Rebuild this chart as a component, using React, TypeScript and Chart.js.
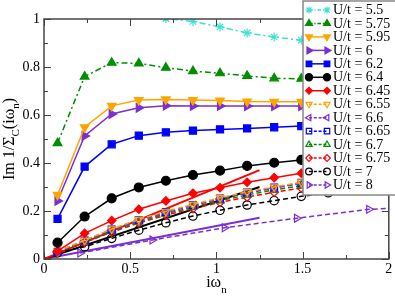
import React, { useEffect, useRef } from 'react';
import { Chart, registerables } from 'chart.js';
import { drawPoint } from 'chart.js/helpers';

Chart.register(...registerables);

const FONT = '"Liberation Serif", "DejaVu Serif", serif';

// Matsubara frequencies (beta = 40 and beta = 15)
const xB40 = [0.0785, 0.2356, 0.3927, 0.5498, 0.7069, 0.8639, 1.021, 1.1781, 1.3352, 1.4923, 1.6493, 1.8064, 1.9635];
const xB15 = [0.2094, 0.6283, 1.0472, 1.4661, 1.885, 2.3038];
const xFit = [0, 1.25];

const u550 = [1.2, 1.12, 1.06, 1.02, 1.002, 0.99, 0.967, 0.942, 0.925, 0.912, 0.9, 0.89, 0.88];
const u575 = [0.483, 0.76, 0.818, 0.815, 0.797, 0.783, 0.774, 0.763, 0.753, 0.751, 0.748, 0.745, 0.742];
const u595 = [0.267, 0.549, 0.638, 0.662, 0.665, 0.662, 0.66, 0.656, 0.655, 0.655, 0.654, 0.653, 0.652];
const u600 = [0.242, 0.513, 0.604, 0.63, 0.639, 0.638, 0.638, 0.637, 0.637, 0.637, 0.636, 0.636, 0.635];
const u620 = [0.167, 0.385, 0.478, 0.514, 0.528, 0.535, 0.54, 0.544, 0.549, 0.554, 0.558, 0.561, 0.564];
const u640 = [0.068, 0.177, 0.253, 0.298, 0.326, 0.35, 0.368, 0.388, 0.401, 0.413, 0.423, 0.432, 0.44];
const u645 = [0.033, 0.107, 0.16, 0.207, 0.242, 0.274, 0.297, 0.32, 0.339, 0.357, 0.372, 0.385, 0.397];
const u655 = [0.032, 0.078, 0.125, 0.165, 0.198, 0.228, 0.255, 0.28, 0.3, 0.32, 0.336, 0.35, 0.363];
const u660 = [0.03, 0.075, 0.12, 0.16, 0.193, 0.223, 0.25, 0.275, 0.295, 0.315, 0.331, 0.345, 0.358];
const u665 = [0.03, 0.077, 0.123, 0.163, 0.196, 0.225, 0.252, 0.277, 0.298, 0.318, 0.334, 0.348, 0.361];
const u670 = [0.028, 0.072, 0.116, 0.155, 0.188, 0.217, 0.243, 0.267, 0.288, 0.306, 0.322, 0.336, 0.349];
const u675 = [0.027, 0.069, 0.112, 0.15, 0.183, 0.21, 0.236, 0.258, 0.278, 0.296, 0.312, 0.326, 0.338];
const u700 = [0.026, 0.051, 0.086, 0.12, 0.151, 0.179, 0.203, 0.225, 0.243, 0.261, 0.276, 0.288, 0.3];
const u800 = [0.025, 0.079, 0.13, 0.17, 0.207, 0.222];

const fitRed = [0, 0.37];
const fitBlack = [0, 0.3];
const fitViolet = [0, 0.172];

const xMajor = [0, 0.5, 1, 1.5, 2];
const xMinor = [0.25, 0.75, 1.25, 1.75];
const yMajor = [0, 0.2, 0.4, 0.6, 0.8, 1];
const yMinor = [0.1, 0.3, 0.5, 0.7, 0.9];

const C_TURQ = '#40e0d0';
const C_GREEN = '#008f00';
const C_ORANGE = '#ffa500';
const C_VIOLET = '#7a2fd0';
const C_BLUE = '#0000ff';
const C_BLACK = '#000000';
const C_RED = '#ff0000';

const DASHDOT = [6, 3, 2, 3];
const DASH = [5, 3];

type S = {
  label: string; xs: number[]; ys: number[]; color: string; style: string;
  rot: number; filled: boolean; dash: number[]; r: number;
};

const series: S[] = [
  { label: 'U/t = 5.5', xs: xB40, ys: u550, color: C_TURQ, style: 'star', rot: 0, filled: true, dash: DASHDOT, r: 4.5 },
  { label: 'U/t = 5.75', xs: xB40, ys: u575, color: C_GREEN, style: 'triangle', rot: 0, filled: true, dash: DASHDOT, r: 5 },
  { label: 'U/t = 5.95', xs: xB40, ys: u595, color: C_ORANGE, style: 'triangle', rot: 180, filled: true, dash: [], r: 5 },
  { label: 'U/t = 6', xs: xB40, ys: u600, color: C_VIOLET, style: 'triangle', rot: 90, filled: true, dash: [], r: 5 },
  { label: 'U/t = 6.2', xs: xB40, ys: u620, color: C_BLUE, style: 'rect', rot: 0, filled: true, dash: [], r: 5 },
  { label: 'U/t = 6.4', xs: xB40, ys: u640, color: C_BLACK, style: 'circle', rot: 0, filled: true, dash: [], r: 4.5 },
  { label: 'U/t = 6.45', xs: xB40, ys: u645, color: C_RED, style: 'rectRot', rot: 0, filled: true, dash: [], r: 4.2 },
  { label: 'U/t = 6.55', xs: xB40, ys: u655, color: C_ORANGE, style: 'triangle', rot: 180, filled: false, dash: DASH, r: 4.5 },
  { label: 'U/t = 6.6', xs: xB40, ys: u660, color: C_VIOLET, style: 'triangle', rot: 270, filled: false, dash: DASH, r: 4.5 },
  { label: 'U/t = 6.65', xs: xB40, ys: u665, color: C_BLUE, style: 'rect', rot: 0, filled: false, dash: DASH, r: 4.8 },
  { label: 'U/t = 6.7', xs: xB40, ys: u670, color: C_GREEN, style: 'triangle', rot: 0, filled: false, dash: DASH, r: 4.5 },
  { label: 'U/t = 6.75', xs: xB40, ys: u675, color: C_RED, style: 'rectRot', rot: 0, filled: false, dash: DASH, r: 4.2 },
  { label: 'U/t = 7', xs: xB40, ys: u700, color: C_BLACK, style: 'circle', rot: 0, filled: false, dash: DASH, r: 4.2 },
  { label: 'U/t = 8', xs: xB15, ys: u800, color: C_VIOLET, style: 'triangle', rot: 90, filled: false, dash: DASH, r: 4.5 },
];

const fits = [
  { xs: xFit, ys: fitRed, color: C_RED },
  { xs: xFit, ys: fitBlack, color: C_BLACK },
  { xs: xFit, ys: fitViolet, color: C_VIOLET },
];

const pts = (xs: number[], ys: number[]) => {
  const n = Math.min(xs.length, ys.length);
  const out: { x: number; y: number }[] = [];
  for (let i = 0; i < n; i++) out.push({ x: xs[i], y: ys[i] });
  return out;
};

const fmt = (v: any) => String(+Number(v).toFixed(2));

const framePlugin = {
  id: 'frameTicks',
  afterDraw(chart: any) {
    const { ctx, chartArea: a, scales } = chart;
    const xs = scales.x, ys = scales.y;
    ctx.save();
    ctx.strokeStyle = '#444';
    ctx.lineWidth = 1.5;
    ctx.setLineDash([]);
    const seg = (x1: number, y1: number, x2: number, y2: number) => {
      ctx.beginPath(); ctx.moveTo(x1, y1); ctx.lineTo(x2, y2); ctx.stroke();
    };
    ctx.strokeRect(a.left, a.top, a.right - a.left, a.bottom - a.top);
    ctx.lineWidth = 1;
    const xt = (v: number, L: number) => {
      const p = Math.round(xs.getPixelForValue(v)) + 0.5;
      seg(p, a.bottom, p, a.bottom - L);
      seg(p, a.top, p, a.top + L);
    };
    const yt = (v: number, L: number) => {
      const p = Math.round(ys.getPixelForValue(v)) + 0.5;
      seg(a.left, p, a.left + L, p);
      seg(a.right, p, a.right - L, p);
    };
    xMajor.forEach((v) => xt(v, 7));
    xMinor.forEach((v) => xt(v, 4));
    yMajor.forEach((v) => yt(v, 7));
    yMinor.forEach((v) => yt(v, 4));

    // axis titles
    ctx.fillStyle = '#000';
    ctx.textBaseline = 'alphabetic';
    ctx.textAlign = 'left';
    const big = `16px ${FONT}`;
    const small = `11px ${FONT}`;
    const drawParts = (parts: { t: string; sub: boolean }[], cx: number, subOff: number) => {
      let w = 0;
      parts.forEach((p) => { ctx.font = p.sub ? small : big; w += ctx.measureText(p.t).width; });
      let x = cx - w / 2;
      parts.forEach((p) => {
        ctx.font = p.sub ? small : big;
        ctx.fillText(p.t, x, p.sub ? subOff : 0);
        x += ctx.measureText(p.t).width;
      });
    };
    ctx.save();
    ctx.translate(0, 287);
    drawParts([{ t: 'iω', sub: false }, { t: 'n', sub: true }], xs.getPixelForValue(1), 6);
    ctx.restore();
    ctx.save();
    ctx.translate(14, (a.top + a.bottom) / 2);
    ctx.rotate(-Math.PI / 2);
    drawParts([
      { t: 'Im 1/Σ', sub: false }, { t: 'C', sub: true },
      { t: '(iω', sub: false }, { t: 'n', sub: true }, { t: ')', sub: false },
    ], 0, 5);
    ctx.restore();

    // legend box
    const L = 303, T = 1, W = 100, H = 194;
    ctx.fillStyle = '#ffffff';
    ctx.fillRect(L, T, W, H);
    ctx.strokeStyle = '#888';
    ctx.lineWidth = 1.5;
    ctx.strokeRect(L, T, W, H);
    const step = 13.46;
    series.forEach((s, i) => {
      const y = 10 + i * step;
      ctx.strokeStyle = s.color;
      ctx.lineWidth = 1.5;
      ctx.setLineDash(s.dash.map((d) => d * 0.6));
      seg(309, y, 327, y);
      ctx.setLineDash([]);
      ctx.fillStyle = s.filled ? s.color : 'rgba(0,0,0,0)';
      ctx.lineWidth = 1.2;
      const opt = { pointStyle: s.style, rotation: s.rot, radius: s.r * 0.8, borderWidth: 1.2 };
      drawPoint(ctx, opt as any, 309, y);
      drawPoint(ctx, opt as any, 327, y);
      ctx.fillStyle = '#000';
      ctx.font = `14px ${FONT}`;
      ctx.textBaseline = 'middle';
      ctx.fillText(s.label, 333, y + 0.5);
    });
    ctx.restore();
  },
};

export default function App() {
  const ref = useRef<HTMLCanvasElement | null>(null);
  useEffect(() => {
    document.body.style.margin = '0';
    if (!ref.current) return;
    const datasets: any[] = [];
    series.forEach((s) => {
      datasets.push({
        label: s.label,
        data: pts(s.xs, s.ys),
        borderColor: s.color,
        backgroundColor: s.filled ? s.color : 'rgba(0,0,0,0)',
        borderWidth: 1.5,
        borderDash: s.dash,
        pointStyle: s.style,
        pointRotation: s.rot,
        pointRadius: s.r,
        pointBorderWidth: 1.2,
        pointBorderColor: s.color,
        pointBackgroundColor: s.filled ? s.color : 'rgba(0,0,0,0)',
        fill: false,
        tension: 0,
      });
    });
    fits.forEach((f) => {
      datasets.push({
        data: pts(f.xs, f.ys),
        borderColor: f.color,
        borderWidth: 2,
        pointRadius: 0,
        fill: false,
        tension: 0,
      });
    });
    const chart = new Chart(ref.current, {
      type: 'line',
      data: { datasets },
      options: {
        animation: false,
        responsive: false,
        maintainAspectRatio: false,
        layout: { padding: { top: 19, right: 6, left: 0, bottom: 0 } },
        plugins: { legend: { display: false }, tooltip: { enabled: false } },
        scales: {
          x: {
            type: 'linear', min: 0, max: 2,
            ticks: { stepSize: 0.5, color: '#000', font: { family: FONT, size: 14 }, padding: 2, maxRotation: 0, autoSkip: false, callback: fmt },
            grid: { display: false, drawTicks: false },
            border: { display: false },
            afterFit: (s: any) => { s.height = 37; },
          },
          y: {
            type: 'linear', min: 0, max: 1,
            ticks: { stepSize: 0.2, color: '#000', font: { family: FONT, size: 14 }, padding: 4, autoSkip: false, callback: fmt },
            grid: { display: false, drawTicks: false },
            border: { display: false },
            afterFit: (s: any) => { s.width = 44; },
          },
        },
      },
      plugins: [framePlugin],
    } as any);
    return () => chart.destroy();
  }, []);
  return <canvas ref={ref} width={395} height={296} style={{ display: 'block' }} />;
}
